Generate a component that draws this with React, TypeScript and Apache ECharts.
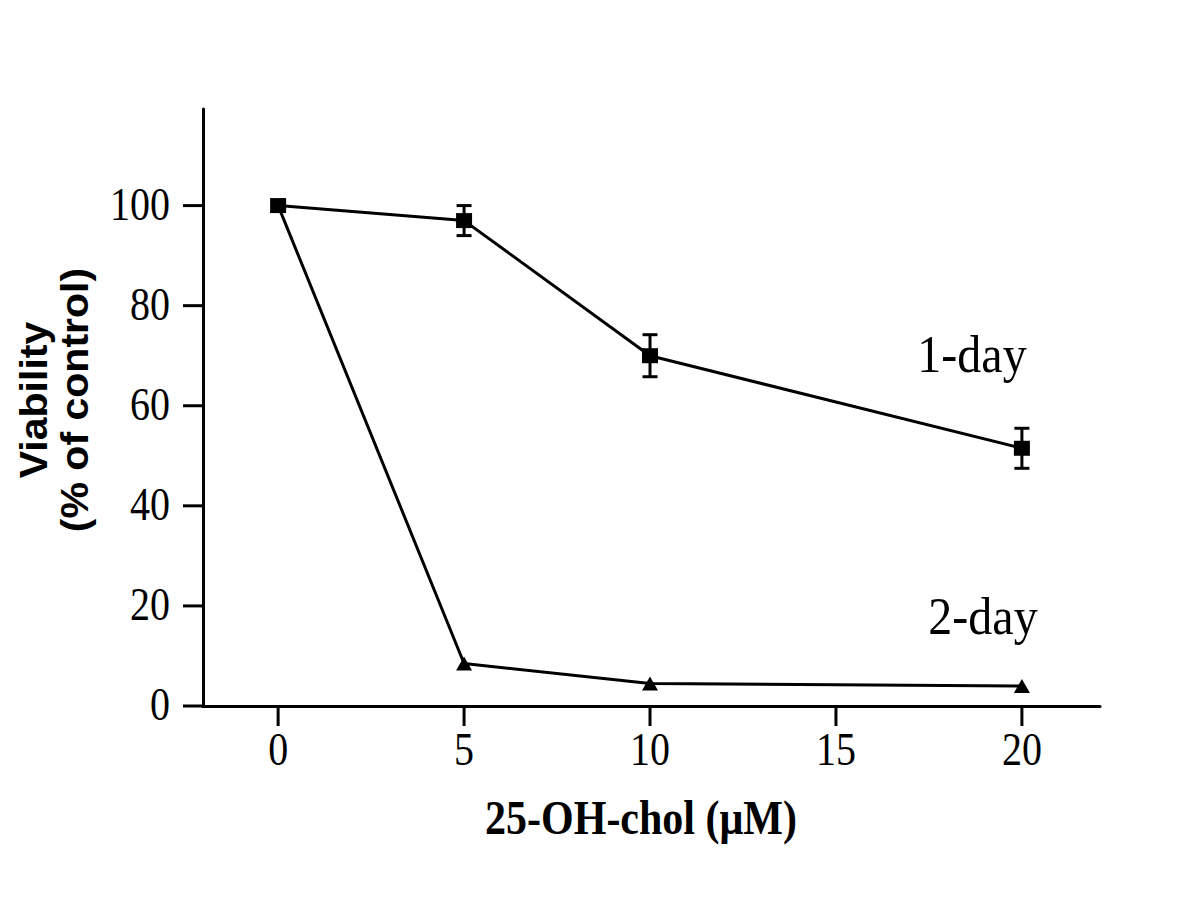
import React, { useEffect, useRef } from "react";
import * as echarts from "echarts";

const doses = [0, 5, 10, 20];
const oneDay = [100, 97, 70, 51.5];
const oneDayErr = [0, 3, 4.2, 4];
const twoDay = [100, 8.5, 4.5, 4];
const xTicks = [0, 5, 10, 15, 20];
const yTicks = [0, 20, 40, 60, 80, 100];
const xTitle = "25-OH-chol (μM)";
const yTitle = "Viability\n(% of control)";
const label1 = "1-day";
const label2 = "2-day";

const SERIF = "'Liberation Serif', 'Times New Roman', serif";
const SANS = "'Liberation Sans', Arial, sans-serif";

export default function App() {
  const ref = useRef<HTMLDivElement>(null);
  useEffect(() => {
    if (!ref.current) return;
    const chart = echarts.init(ref.current, null, { renderer: "svg" });
    const option: any = {
      animation: false,
      backgroundColor: "#fff",
      grid: { left: 203, top: 109, width: 897, height: 597 },
      xAxis: {
        type: "value",
        min: -2.02,
        max: 22.1,
        axisLine: { show: true, onZero: false, lineStyle: { color: "#000", width: 3 } },
        axisTick: { show: false },
        axisLabel: { show: false },
        splitLine: { show: false },
      },
      yAxis: {
        type: "value",
        min: 0,
        max: 119.3,
        axisLine: { show: true, onZero: false, lineStyle: { color: "#000", width: 3 } },
        axisTick: { show: false },
        axisLabel: { show: false },
        splitLine: { show: false },
      },
      series: [
        {
          type: "custom",
          name: "xticks",
          silent: true,
          data: xTicks.map((v) => [v, 0]),
          renderItem: (params: any, api: any) => {
            const p = api.coord([api.value(0), 0]);
            return {
              type: "group",
              children: [
                { type: "line", shape: { x1: p[0], y1: p[1], x2: p[0], y2: p[1] + 20 }, style: { stroke: "#000", lineWidth: 3 } },
                {
                  type: "text",
                  x: p[0],
                  y: p[1] + 44,
                  scaleY: 1.15,
                  style: { text: String(api.value(0)), fontSize: 40, fontFamily: SERIF, fill: "#000", align: "center", verticalAlign: "middle" },
                },
              ],
            };
          },
        },
        {
          type: "custom",
          name: "yticks",
          silent: true,
          data: yTicks.map((v) => [-2, v]),
          renderItem: (params: any, api: any) => {
            const p = api.coord([-2.02, api.value(1)]);
            return {
              type: "group",
              children: [
                { type: "line", shape: { x1: p[0] - 20, y1: p[1], x2: p[0], y2: p[1] }, style: { stroke: "#000", lineWidth: 3 } },
                {
                  type: "text",
                  x: p[0] - 33,
                  y: p[1] - 1,
                  scaleY: 1.15,
                  style: { text: String(api.value(1)), fontSize: 40, fontFamily: SERIF, fill: "#000", align: "right", verticalAlign: "middle" },
                },
              ],
            };
          },
        },
        {
          type: "custom",
          name: "err",
          silent: true,
          z: 3,
          data: doses.map((d, i) => [d, oneDay[i], oneDayErr[i]]).filter((r) => r[2] > 0),
          renderItem: (params: any, api: any) => {
            const x = api.value(0);
            const y = api.value(1);
            const e = api.value(2);
            const t = api.coord([x, y + e]);
            const b = api.coord([x, y - e]);
            const hw = 7.5;
            const st = { stroke: "#000", lineWidth: 3 };
            return {
              type: "group",
              children: [
                { type: "line", shape: { x1: t[0], y1: t[1], x2: b[0], y2: b[1] }, style: st },
                { type: "line", shape: { x1: t[0] - hw, y1: t[1], x2: t[0] + hw, y2: t[1] }, style: st },
                { type: "line", shape: { x1: b[0] - hw, y1: b[1], x2: b[0] + hw, y2: b[1] }, style: st },
              ],
            };
          },
        },
        {
          type: "line",
          name: "1-day",
          z: 4,
          data: doses.map((d, i) => [d, oneDay[i]]),
          symbol: "rect",
          symbolSize: [16, 15],
          lineStyle: { color: "#000", width: 3 },
          itemStyle: { color: "#000" },
        },
        {
          type: "line",
          name: "2-day",
          z: 4,
          data: doses.map((d, i) => [d, twoDay[i]]),
          symbol: "triangle",
          symbolSize: [16, 14],
          lineStyle: { color: "#000", width: 3 },
          itemStyle: { color: "#000" },
        },
      ],
      graphic: [
        {
          type: "text",
          x: 972,
          y: 354,
          scaleY: 1.1,
          style: { text: label1, fontSize: 48, fontFamily: SERIF, fill: "#000", align: "center", verticalAlign: "middle" },
        },
        {
          type: "text",
          x: 983,
          y: 616,
          scaleY: 1.1,
          style: { text: label2, fontSize: 48, fontFamily: SERIF, fill: "#000", align: "center", verticalAlign: "middle" },
        },
        {
          type: "text",
          x: 641,
          y: 817,
          scaleY: 1.18,
          style: { text: xTitle, fontSize: 42, fontWeight: "bold", fontFamily: SERIF, fill: "#000", align: "center", verticalAlign: "middle" },
        },
        {
          type: "text",
          x: 54,
          y: 400,
          rotation: Math.PI / 2,
          scaleX: 1.08,
          style: { text: yTitle, fontSize: 38, lineHeight: 41, fontWeight: "bold", fontFamily: SANS, fill: "#000", align: "center", verticalAlign: "middle" },
        },
      ],
    };
    chart.setOption(option);
    return () => chart.dispose();
  }, []);
  return <div ref={ref} style={{ position: "absolute", left: 0, top: 0, width: 1200, height: 900 }} />;
}
